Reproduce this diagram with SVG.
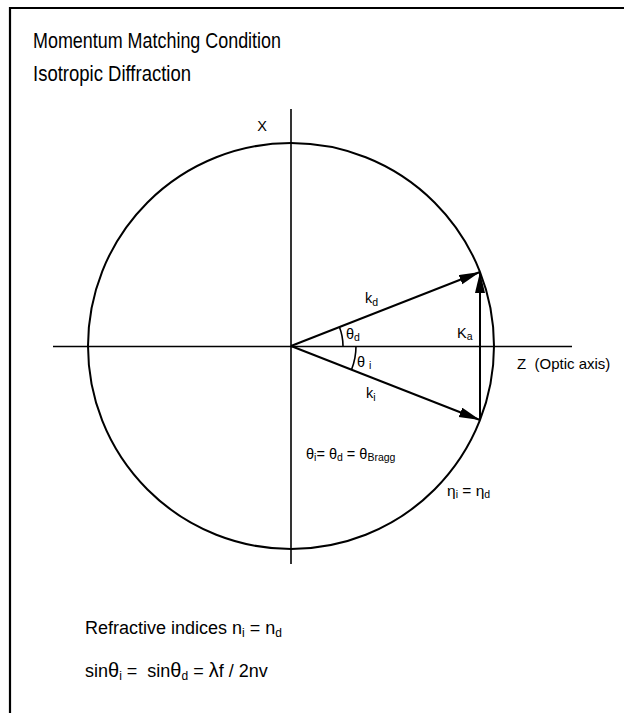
<svg xmlns="http://www.w3.org/2000/svg" width="624" height="713" viewBox="0 0 624 713">
<style>
text{font-family:"Liberation Sans",Arial,sans-serif;fill:#000}
.title{font-size:22px}
.lbl{font-size:14.5px}
.sub{font-size:10.5px}
.bot{font-size:18px}
.bsub{font-size:12px}
.gk{font-size:20px}
.ax{stroke:#000;stroke-width:1.6;fill:none}
.vec{stroke:#000;stroke-width:2;fill:none}
</style>
<defs>
<marker id="ah" markerUnits="userSpaceOnUse" markerWidth="22" markerHeight="12" refX="21" refY="5" orient="auto">
<path d="M0,0 L21,5 L0,10 Z" fill="#000"/>
</marker>
</defs>
<g id="frame">
<line x1="9" y1="8" x2="624" y2="8" stroke="#000" stroke-width="2.2"/>
<line x1="10" y1="7" x2="10" y2="713" stroke="#000" stroke-width="2.2"/>
</g>
<g id="titles">
<text class="title" x="33" y="48" textLength="248" lengthAdjust="spacingAndGlyphs">Momentum Matching Condition</text>
<text class="title" x="33" y="81" textLength="158" lengthAdjust="spacingAndGlyphs">Isotropic Diffraction</text>
</g>
<g id="circle">
<circle cx="291" cy="346" r="203" class="vec"/>
</g>
<g id="axes">
<line x1="291" y1="109" x2="291" y2="564" class="ax"/>
<line x1="53" y1="346.5" x2="572" y2="346.5" class="ax"/>
<text class="lbl" x="262" y="131" text-anchor="middle">X</text>
<text class="lbl" x="517" y="369" xml:space="preserve" style="font-size:15px">Z  (Optic axis)</text>
</g>
<g id="connectors">
<line id="kd" x1="291" y1="346" x2="480" y2="272" class="vec" marker-end="url(#ah)"/>
<line id="ki" x1="291" y1="346" x2="480" y2="420" class="vec" marker-end="url(#ah)"/>
<line id="Ka" x1="480" y1="420" x2="480" y2="272" class="vec" marker-end="url(#ah)"/>
<path d="M343,346 A52,52 0 0 0 339.4,327" class="ax"/>
<path d="M356,346 A65,65 0 0 1 351.5,369.7" class="ax"/>
</g>
<g id="labels">
<text class="lbl" x="365" y="303">k<tspan class="sub" dy="3">d</tspan></text>
<text class="lbl" x="346" y="339">θ<tspan class="sub" dy="2">d</tspan></text>
<text class="lbl" x="457" y="338">K<tspan class="sub" dy="2">a</tspan></text>
<text class="lbl" x="357" y="367" xml:space="preserve">θ <tspan class="sub" dy="2">i</tspan></text>
<text class="lbl" x="366" y="398">k<tspan class="sub" dy="3">i</tspan></text>
<text class="lbl" x="306" y="459" xml:space="preserve">θ<tspan class="sub" dy="2">i</tspan><tspan dy="-2">= θ</tspan><tspan class="sub" dy="2">d</tspan><tspan dy="-2"> = θ</tspan><tspan class="sub" dy="2">Bragg</tspan></text>
<text class="lbl" x="447" y="496" xml:space="preserve" style="font-size:15.5px">η<tspan class="sub" dy="2">i</tspan><tspan dy="-2"> = η</tspan><tspan class="sub" dy="2">d</tspan></text>
</g>
<g id="equations">
<text class="bot" x="85" y="634" xml:space="preserve">Refractive indices n<tspan class="bsub" dy="3">i</tspan><tspan dy="-3"> = n</tspan><tspan class="bsub" dy="3">d</tspan></text>
<text class="bot" x="85" y="677" xml:space="preserve">sin<tspan class="gk">θ</tspan><tspan class="bsub" dy="3">i</tspan><tspan dy="-3"> =  sin</tspan><tspan class="gk">θ</tspan><tspan class="bsub" dy="3">d</tspan><tspan dy="-3"> = </tspan><tspan class="gk">λ</tspan>f / 2nv</text>
</g>
</svg>
